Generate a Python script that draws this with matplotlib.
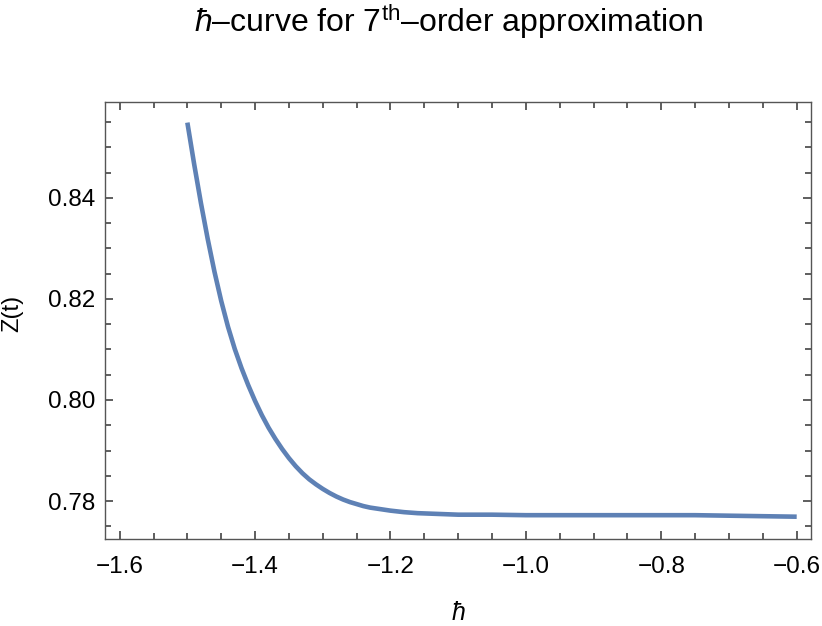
"""
hbar-curve for the 7th-order approximation, redrawn from the reference figure.
"""

import matplotlib
matplotlib.use("Agg")
import matplotlib.pyplot as plt
from matplotlib.ticker import MultipleLocator

# values
hbar = [-1.50, -1.49, -1.48, -1.47, -1.46, -1.45, -1.44, -1.43, -1.42, -1.41,
        -1.40, -1.39, -1.38, -1.37, -1.36, -1.35, -1.34, -1.33, -1.32, -1.31,
        -1.30, -1.29, -1.28, -1.27, -1.26, -1.25, -1.24, -1.23, -1.22, -1.21,
        -1.20, -1.18, -1.16, -1.14, -1.12, -1.10, -1.05, -1.00, -0.90, -0.80,
        -0.75, -0.70, -0.65, -0.60]
z_t = [0.8549, 0.8467, 0.8390, 0.8319, 0.8254, 0.8196, 0.8145, 0.8101, 0.8063, 0.8029,
       0.7998, 0.7970, 0.7945, 0.7923, 0.7903, 0.7885, 0.7869, 0.7855, 0.7843, 0.7833,
       0.7824, 0.7816, 0.7809, 0.7803, 0.7798, 0.7794, 0.7790, 0.7787, 0.7785, 0.7783,
       0.7781, 0.7778, 0.7776, 0.7775, 0.7774, 0.7773, 0.7773, 0.7772, 0.7772, 0.7772,
       0.7772, 0.7771, 0.7770, 0.7769]

x_ticks = [-1.6, -1.4, -1.2, -1.0, -0.8, -0.6]
y_ticks = [0.78, 0.80, 0.82, 0.84]


def main():
    plt.rcParams["font.family"] = ["Liberation Sans", "DejaVu Sans"]
    plt.rcParams["mathtext.fontset"] = "custom"
    plt.rcParams["mathtext.rm"] = "Liberation Sans"
    plt.rcParams["mathtext.it"] = "Liberation Sans:italic"
    plt.rcParams["mathtext.fallback"] = "stixsans"

    fig = plt.figure(figsize=(8.22, 6.26), dpi=100)
    # frame measured at x 105..811, y 102..539 px
    ax = fig.add_axes([0.1277, 0.1390, 0.8589, 0.6981])

    ax.plot(hbar, z_t, color="#5e81b5", linewidth=3.3, solid_capstyle="butt")

    ax.set_xlim(-1.6217, -0.5789)
    ax.set_ylim(0.77249, 0.85898)
    ax.set_xticks(x_ticks)
    ax.set_yticks(y_ticks)
    ax.set_xticklabels([f"{v:.1f}".replace("-", "\u2212") for v in x_ticks])
    ax.set_yticklabels([f"{v:.2f}" for v in y_ticks])
    ax.xaxis.set_minor_locator(MultipleLocator(0.05))
    ax.yaxis.set_minor_locator(MultipleLocator(0.005))

    ax.tick_params(which="both", direction="in", top=True, right=True,
                   color="#333333", width=1.1, labelsize=17.5)
    ax.tick_params(which="major", length=5.8)
    ax.tick_params(which="minor", length=4)
    ax.tick_params(axis="x", pad=12)
    ax.tick_params(axis="y", pad=7)
    for spine in ax.spines.values():
        spine.set_color("#555555")
        spine.set_linewidth(1.0)

    ax.set_xlabel(r"$\hbar$", fontsize=18, labelpad=17)
    fig.text(0.002, 0.5, "Z(t)", rotation=90, ha="left", va="center", fontsize=17)
    title = "$\\hbar$\u2013curve for 7$^{\\mathrm{th}}$\u2013order approximation"
    fig.text(0.546, 0.965, title, ha="center", va="center", fontsize=23)

    fig.savefig("out.png", dpi=100)


if __name__ == "__main__":
    main()
